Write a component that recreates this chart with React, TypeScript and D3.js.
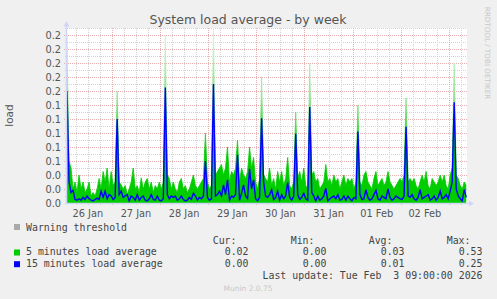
import React, { useEffect, useRef } from "react";
import * as d3 from "d3";

// 30-min consolidated week data, one value per hour starting at `start`
const load5 = [
  0.24, 0.06, 0.05, 0.02, 0.03, 0.015, 0.04, 0.02, 0.03, 0.015,
  0.02, 0.03, 0.01, 0.015, 0.01, 0.02, 0.035, 0.02, 0.045, 0.03,
  0.05, 0.02, 0.045, 0.025, 0.03, 0.16, 0.03, 0.026, 0.02, 0.025,
  0.012, 0.02, 0.03, 0.05, 0.02, 0.025, 0.015, 0.036, 0.02, 0.03,
  0.035, 0.02, 0.03, 0.015, 0.025, 0.02, 0.03, 0.02, 0.03, 0.24,
  0.04, 0.035, 0.02, 0.03, 0.02, 0.015, 0.03, 0.035, 0.02, 0.025,
  0.015, 0.02, 0.03, 0.04, 0.025, 0.02, 0.025, 0.03, 0.035, 0.10,
  0.03, 0.02, 0.025, 0.25, 0.04, 0.045, 0.05, 0.055, 0.04, 0.05,
  0.08, 0.03, 0.045, 0.04, 0.05, 0.09, 0.03, 0.05, 0.04, 0.035,
  0.045, 0.08, 0.05, 0.065, 0.03, 0.02, 0.035, 0.18, 0.04, 0.035,
  0.03, 0.05, 0.025, 0.035, 0.02, 0.045, 0.03, 0.045, 0.025, 0.035,
  0.065, 0.025, 0.02, 0.03, 0.13, 0.035, 0.045, 0.03, 0.05, 0.025,
  0.02, 0.20, 0.04, 0.045, 0.03, 0.035, 0.02, 0.025, 0.03, 0.055,
  0.03, 0.035, 0.025, 0.04, 0.03, 0.035, 0.02, 0.03, 0.04, 0.025,
  0.035, 0.03, 0.035, 0.02, 0.03, 0.14, 0.03, 0.025, 0.04, 0.045,
  0.03, 0.025, 0.02, 0.035, 0.045, 0.025, 0.03, 0.035, 0.025, 0.03,
  0.045, 0.03, 0.025, 0.02, 0.025, 0.03, 0.035, 0.03, 0.04, 0.15,
  0.03, 0.035, 0.03, 0.035, 0.025, 0.02, 0.03, 0.04, 0.03, 0.045,
  0.025, 0.02, 0.035, 0.03, 0.025, 0.03, 0.04, 0.03, 0.04, 0.025,
  0.02, 0.04, 0.05, 0.20, 0.04, 0.035, 0.025, 0.02, 0.03, 0.025,
];
const load15 = [
  0.16, 0.03, 0.015, 0.018, 0.005, 0.004, 0.006, 0.004, 0.008, 0.005,
  0.01, 0.006, 0.004, 0.003, 0.005, 0.007, 0.005, 0.017, 0.008, 0.017,
  0.006, 0.012, 0.01, 0.005, 0.008, 0.12, 0.012, 0.017, 0.008, 0.01,
  0.012, 0.003, 0.01, 0.008, 0.004, 0.012, 0.004, 0.008, 0.01, 0.004,
  0.003, 0.006, 0.012, 0.005, 0.004, 0.01, 0.004, 0.003, 0.006, 0.165,
  0.012, 0.006, 0.01, 0.008, 0.01, 0.004, 0.006, 0.01, 0.005, 0.003,
  0.004, 0.008, 0.005, 0.014, 0.01, 0.004, 0.008, 0.006, 0.01, 0.06,
  0.008, 0.004, 0.006, 0.17, 0.01, 0.012, 0.017, 0.01, 0.026, 0.012,
  0.033, 0.004, 0.01, 0.008, 0.012, 0.069, 0.004, 0.014, 0.026, 0.01,
  0.006, 0.049, 0.02, 0.033, 0.006, 0.003, 0.008, 0.121, 0.03, 0.01,
  0.008, 0.012, 0.019, 0.005, 0.008, 0.017, 0.004, 0.012, 0.006, 0.01,
  0.029, 0.008, 0.004, 0.01, 0.099, 0.012, 0.005, 0.008, 0.014, 0.006,
  0.004, 0.137, 0.015, 0.01, 0.003, 0.01, 0.004, 0.006, 0.01, 0.021,
  0.003, 0.006, 0.008, 0.01, 0.006, 0.012, 0.004, 0.005, 0.01, 0.004,
  0.01, 0.006, 0.003, 0.008, 0.006, 0.102, 0.012, 0.005, 0.006, 0.019,
  0.008, 0.004, 0.006, 0.012, 0.018, 0.006, 0.004, 0.01, 0.008, 0.006,
  0.02, 0.008, 0.004, 0.006, 0.01, 0.008, 0.006, 0.005, 0.01, 0.109,
  0.01, 0.008, 0.012, 0.006, 0.004, 0.008, 0.019, 0.006, 0.008, 0.01,
  0.012, 0.004, 0.006, 0.01, 0.004, 0.008, 0.017, 0.006, 0.008, 0.012,
  0.006, 0.017, 0.03, 0.144, 0.02, 0.01, 0.006, 0.003, 0.019, 0.008,
];
const yTicks = [0.02, 0.04, 0.06, 0.08, 0.1, 0.12, 0.14, 0.16, 0.18, 0.2, 0.22, 0.24];
const yMinor = [0.01, 0.03, 0.05, 0.07, 0.09, 0.11, 0.13, 0.15, 0.17, 0.19, 0.21, 0.23, 0.25];
const legendRows = [
  { name: "5 minutes load average", color: "#00cc00", cur: "0.02", min: "0.00", avg: "0.03", max: "0.53" },
  { name: "15 minutes load average", color: "#0000ff", cur: "0.00", min: "0.00", avg: "0.01", max: "0.25" },
];

const start = new Date(2026, 0, 26, 1, 37);
const end = new Date(2026, 1, 3, 9, 0);

const W = 497, H = 299;
const left = 67, right = 467, top = 28, bottom = 203;

export default function App() {
  const ref = useRef<SVGSVGElement>(null);

  useEffect(() => {
    const svg = d3.select(ref.current);
    svg.selectAll("*").remove();

    const x = d3.scaleTime().domain([start, end]).range([left, right]);
    const y = d3.scaleLinear().domain([0, 0.25]).range([bottom, top]);
    const t = (i: number) => d3.timeHour.offset(start, i);

    svg.append("rect").attr("width", W).attr("height", H).attr("fill", "#f0f0f0");
    svg.append("rect").attr("x", left).attr("y", top).attr("width", right - left)
      .attr("height", bottom - top).attr("fill", "#ffffff");

    // thin spikes fade out towards their tips, like the antialiased rrd lines
    const grad = svg.append("defs").append("linearGradient").attr("id", "g5")
      .attr("gradientUnits", "userSpaceOnUse").attr("x1", 0).attr("x2", 0)
      .attr("y1", y(0)).attr("y2", y(0.25));
    grad.append("stop").attr("offset", 0).attr("stop-color", "#00cc00");
    grad.append("stop").attr("offset", 0.3).attr("stop-color", "#00cc00");
    grad.append("stop").attr("offset", 0.6).attr("stop-color", "#8ee08e");
    grad.append("stop").attr("offset", 1).attr("stop-color", "#d8f4d8");

    const minorC = "#d2d2d2", majorC = "#e6b0b0";
    const grid = svg.append("g").attr("shape-rendering", "crispEdges");
    d3.timeHour.every(6)!.range(start, end).filter(d => d.getHours() !== 0).forEach(d => {
      const px = Math.round(x(d)) + 0.5;
      grid.append("line").attr("x1", px).attr("x2", px).attr("y1", top).attr("y2", bottom + 2)
        .attr("stroke", minorC).attr("stroke-dasharray", "1,1");
    });
    yMinor.forEach(v => {
      const py = Math.round(y(v)) + 0.5;
      grid.append("line").attr("x1", left - 2).attr("x2", right).attr("y1", py).attr("y2", py)
        .attr("stroke", minorC).attr("stroke-dasharray", "1,1");
    });
    d3.timeDay.range(start, end).forEach(d => {
      const px = Math.round(x(d)) + 0.5;
      grid.append("line").attr("x1", px).attr("x2", px).attr("y1", top).attr("y2", bottom + 3)
        .attr("stroke", majorC).attr("stroke-dasharray", "1,1");
    });
    yTicks.forEach(v => {
      const py = Math.round(y(v)) + 0.5;
      grid.append("line").attr("x1", left - 3).attr("x2", right).attr("y1", py).attr("y2", py)
        .attr("stroke", majorC).attr("stroke-dasharray", "1,1");
    });

    const plot = svg.append("g");
    plot.append("path").datum(load5)
      .attr("d", d3.area<number>().x((d, i) => x(t(i))).y0(y(0)).y1(d => y(d)))
      .attr("fill", "url(#g5)");
    plot.append("path").datum(load5)
      .attr("d", d3.line<number>().x((d, i) => x(t(i))).y(d => y(d)))
      .attr("fill", "none").attr("stroke", "url(#g5)").attr("stroke-width", 0.8);
    plot.append("path").datum(load15)
      .attr("d", d3.line<number>().x((d, i) => x(t(i))).y(d => y(d)))
      .attr("fill", "none").attr("stroke", "#0000ff").attr("stroke-width", 1.4);

    // axes with arrows
    const axisColor = "#cfd6f8";
    svg.append("line").attr("x1", left - 0.5).attr("x2", left - 0.5).attr("y1", bottom + 1).attr("y2", 24)
      .attr("stroke", axisColor).attr("stroke-width", 1.5);
    svg.append("path").attr("d", `M${left - 3.5},26.5 L${left - 0.5},21 L${left + 2.5},26.5 Z`).attr("fill", axisColor);
    svg.append("line").attr("x1", left - 2).attr("x2", right + 3).attr("y1", bottom + 0.5).attr("y2", bottom + 0.5)
      .attr("stroke", axisColor).attr("stroke-width", 1.5);
    svg.append("path").attr("d", `M${right + 2},${bottom - 2.5} L${right + 7},${bottom + 0.5} L${right + 2},${bottom + 3.5} Z`).attr("fill", axisColor);

    const fmt = d3.format(".1f");
    svg.append("g").selectAll("text").data([0, ...yTicks]).enter().append("text")
      .attr("x", 61).attr("y", d => y(d)).attr("dy", "0.36em")
      .attr("text-anchor", "end").attr("font-family", "DejaVu Sans").attr("font-size", 9.8)
      .attr("fill", "#555").text(d => fmt(d));

    const fmtDay = d3.timeFormat("%d %b");
    svg.append("g").selectAll("text").data(d3.timeDay.range(d3.timeDay.floor(start), d3.timeDay.floor(end)))
      .enter().append("text")
      .attr("x", d => x(d3.timeHour.offset(d, 12))).attr("y", 216.5)
      .attr("text-anchor", "middle").attr("font-family", "DejaVu Sans").attr("font-size", 9.8)
      .attr("fill", "#555").text(d => fmtDay(d));

    svg.append("text").attr("x", 248).attr("y", 23.5).attr("text-anchor", "middle")
      .attr("font-family", "DejaVu Sans").attr("font-size", 12.5).attr("fill", "#555")
      .text("System load average - by week");
    svg.append("text").attr("transform", `translate(13,${(top + bottom) / 2}) rotate(-90)`)
      .attr("text-anchor", "middle").attr("font-family", "DejaVu Sans").attr("font-size", 10.5)
      .attr("fill", "#555").text("load");
    svg.append("text").attr("transform", "translate(485,53) rotate(90)")
      .attr("text-anchor", "middle").attr("font-family", "DejaVu Sans").attr("font-size", 7.2)
      .attr("fill", "#c8c8c8").text("RRDTOOL / TOBI OETIKER");

    // legend
    const mono = { "font-family": "DejaVu Sans Mono", "font-size": 9.9, fill: "#444" };
    const txt = (xx: number, yy: number, s: string, anchor = "start") => {
      const el = svg.append("text").attr("x", xx).attr("y", yy).attr("text-anchor", anchor)
        .style("white-space", "pre").text(s);
      Object.entries(mono).forEach(([k, v]) => el.attr(k, v as any));
      return el;
    };
    svg.append("rect").attr("x", 14).attr("y", 224).attr("width", 6).attr("height", 6).attr("fill", "#aaaaaa");
    txt(26, 230.5, "Warning threshold");
    txt(236.5, 243.5, "Cur:", "end");
    txt(314.5, 243.5, "Min:", "end");
    txt(392.5, 243.5, "Avg:", "end");
    txt(470.5, 243.5, "Max:", "end");
    legendRows.forEach((r, i) => {
      const yy = 255 + i * 11.7;
      svg.append("rect").attr("x", 14).attr("y", yy - 5.5).attr("width", 6).attr("height", 6).attr("fill", r.color);
      txt(26, yy, r.name);
      txt(248.5, yy, r.cur, "end");
      txt(326.5, yy, r.min, "end");
      txt(404.5, yy, r.avg, "end");
      txt(482.5, yy, r.max, "end");
    });
    txt(482.5, 279, "Last update: Tue Feb  3 09:00:00 2026", "end");
    svg.append("text").attr("x", 248).attr("y", 291).attr("text-anchor", "middle")
      .attr("font-family", "DejaVu Sans").attr("font-size", 7.5).attr("fill", "#c8c8c8")
      .text("Munin 2.0.75");
  }, []);

  return <svg ref={ref} width={W} height={H} style={{ display: "block", position: "absolute", left: 0, top: 0 }} />;
}
